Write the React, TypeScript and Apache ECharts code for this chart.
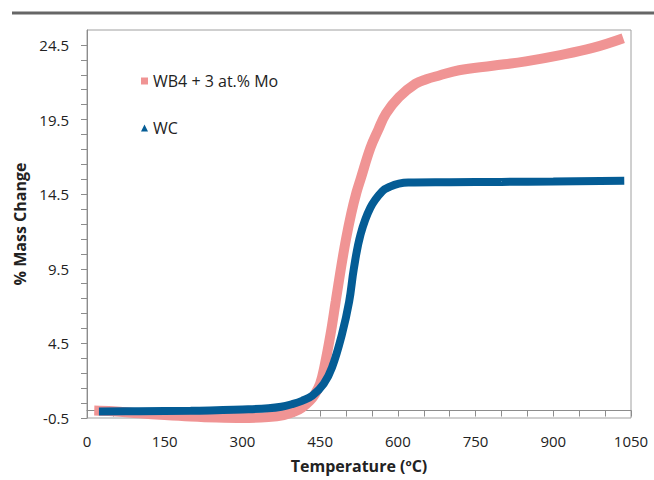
import React, { useEffect, useRef } from "react";
import * as echarts from "echarts";

// WB4 + 3 at.% Mo
const wb4Temp = [14, 50, 100, 150, 200, 250, 300, 350, 380, 400, 415, 430, 440, 450, 458, 470, 480, 490, 500, 510, 520, 528, 547, 562, 577, 602, 634, 655, 680, 718, 783, 847, 911, 976, 1035];
const wb4Mass = [0.0, -0.05, -0.18, -0.3, -0.4, -0.47, -0.5, -0.43, -0.3, -0.08, 0.2, 0.65, 1.1, 1.8, 2.9, 5.1, 7.3, 9.5, 11.5, 13.2, 14.6, 15.5, 17.6, 18.8, 19.9, 21.0, 21.9, 22.2, 22.45, 22.8, 23.1, 23.4, 23.8, 24.3, 24.95];

// WC
const wcTemp = [23, 100, 200, 250, 300, 350, 375, 395, 415, 435, 457, 473, 492, 506, 515, 528, 547, 570, 585, 602, 620, 700, 800, 900, 1037];
const wcMass = [-0.06, -0.05, -0.02, 0.02, 0.07, 0.15, 0.25, 0.42, 0.65, 1.0, 1.8, 2.9, 5.1, 7.3, 9.5, 11.8, 13.6, 14.7, 15.0, 15.2, 15.28, 15.3, 15.32, 15.35, 15.4];

const seriesNames = ["WB4 + 3 at.% Mo", "WC"];
const yLabelValues = [-0.5, 4.5, 9.5, 14.5, 19.5, 24.5];
const yTickValues = [-0.5, 0.5, 1.5, 2.5, 3.5, 4.5, 5.5, 6.5, 7.5, 8.5, 9.5, 10.5, 11.5, 12.5, 13.5, 14.5, 15.5, 16.5, 17.5, 18.5, 19.5, 20.5, 21.5, 22.5, 23.5, 24.5];

const FONT = "Open Sans";
const PINK = "#F09494";
const BLUE = "#045C95";
const AXIS = "#8c8c8c";

export default function App() {
  const ref = useRef<HTMLDivElement>(null);
  useEffect(() => {
    if (!ref.current) return;
    const chart = echarts.init(ref.current, undefined, { renderer: "svg" });
    chart.setOption({
      animation: false,
      backgroundColor: "#fff",
      grid: { left: 87, right: 23, top: 30, bottom: 62, show: true, borderColor: "#a0a0a0", borderWidth: 1 },
      graphic: [
        { type: "line", shape: { x1: 12, y1: 13, x2: 654, y2: 13 }, style: { stroke: "#666", lineWidth: 3 } },
      ],
      legend: {
        orient: "vertical",
        left: 136,
        top: 68,
        itemWidth: 7,
        itemHeight: 7,
        itemGap: 31,
        textStyle: { fontFamily: FONT, fontSize: 16, color: "#222" },
        data: [
          { name: seriesNames[0], icon: "rect" },
          { name: seriesNames[1], icon: "triangle" },
        ],
      },
      xAxis: {
        type: "value",
        min: 0,
        max: 1050,
        interval: 150,
        axisLine: { show: true, lineStyle: { color: AXIS } },
        axisTick: { show: true, length: 6, lineStyle: { color: AXIS } },
        minorTick: { show: true, splitNumber: 3, length: 6, lineStyle: { color: AXIS } },
        splitLine: { show: false },
        axisLabel: { fontFamily: FONT, fontSize: 15, color: "#222", margin: 15, formatter: (v: number) => String(v) },
        name: "Temperature (ºC)",
        nameLocation: "middle",
        nameGap: 40,
        nameTextStyle: { fontFamily: FONT, fontSize: 16, fontWeight: "bold", color: "#222" },
      },
      yAxis: {
        type: "value",
        min: -0.5,
        max: 25.5,
        axisLine: { show: true, lineStyle: { color: AXIS } },
        axisTick: { show: true, length: 6, customValues: yTickValues, lineStyle: { color: AXIS } },
        splitLine: { show: false },
        axisLabel: { fontFamily: FONT, fontSize: 15, color: "#222", margin: 18, customValues: yLabelValues },
        name: "% Mass Change",
        nameLocation: "middle",
        nameGap: 50,
        nameTextStyle: { fontFamily: FONT, fontSize: 16, fontWeight: "bold", color: "#222" },
      },
      series: [
        {
          type: "line",
          name: seriesNames[0],
          data: wb4Temp.map((t, i) => [t, wb4Mass[i]]),
          showSymbol: false,
          smooth: 0.4,
          lineStyle: { width: 10, color: PINK, cap: "butt" },
          itemStyle: { color: PINK },
          z: 2,
        },
        {
          type: "line",
          name: seriesNames[1],
          data: wcTemp.map((t, i) => [t, wcMass[i]]),
          showSymbol: false,
          smooth: 0.4,
          lineStyle: { width: 8, color: BLUE, cap: "butt" },
          itemStyle: { color: BLUE },
          z: 3,
        },
      ],
    });
    return () => chart.dispose();
  }, []);
  return <div ref={ref} style={{ position: "fixed", left: 0, top: 0, width: 654, height: 480 }} />;
}
